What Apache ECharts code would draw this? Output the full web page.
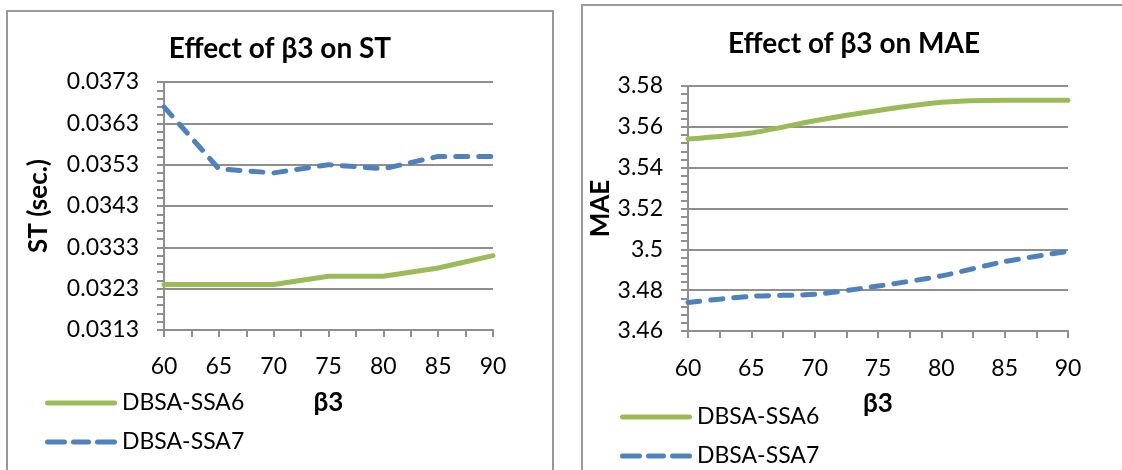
<!DOCTYPE html>
<html><head><meta charset="utf-8">
<script src="https://cdn.jsdelivr.net/npm/echarts@6/dist/echarts.min.js"></script>
<style>html,body{margin:0;padding:0;background:#fff}#c{width:1122px;height:470px}</style>
</head><body><div id="c"></div>
<script>
// ---- data ----
const beta3 = [60, 65, 70, 75, 80, 85, 90];
const stSSA6 = [0.0324, 0.0324, 0.0324, 0.0326, 0.0326, 0.0328, 0.0331];
const stSSA7 = [0.0367, 0.0352, 0.0351, 0.0353, 0.0352, 0.0355, 0.0355];
const maeSSA6 = [3.554, 3.557, 3.563, 3.568, 3.572, 3.573, 3.573];
const maeSSA7 = [3.474, 3.477, 3.478, 3.482, 3.487, 3.494, 3.499];
const stTicks = ['0.0313', '0.0323', '0.0333', '0.0343', '0.0353', '0.0363', '0.0373'];
const maeTicks = ['3.46', '3.48', '3.5', '3.52', '3.54', '3.56', '3.58'];
const xTicks = [60, 65, 70, 75, 80, 85, 90];
const seriesNames = ['DBSA-SSA6', 'DBSA-SSA7'];
const titles = ['Effect of β3 on ST', 'Effect of β3 on MAE'];
const yNames = ['ST (sec.)', 'MAE'];
const xName = 'β3';

// ST axis is drawn in units of 0.0001 above its first tick
const stBase = parseFloat(stTicks[0]);
const stUnit = 0.0001;
const stStep = 10;
const toST = v => Math.round((v - stBase) / stUnit * 1000) / 1000;
const maeBase = parseFloat(maeTicks[0]);
const maeStep = 0.02;

const GREEN = '#9BBB59', BLUE = '#4F81BD', GRID = '#8f8f8f';
const FONT = 'Lato';

// legend icons (line samples)
const ICON_SOLID = 'path://M2.5,0H69.5A2.5,2.5 0 0 1 69.5,5H2.5A2.5,2.5 0 0 1 2.5,0Z';
const ICON_DASH = 'path://M2.5,0H19.5A2.5,2.5 0 0 1 19.5,5H2.5A2.5,2.5 0 0 1 2.5,0Z' +
  'M28.5,0H43.5A2.5,2.5 0 0 1 43.5,5H28.5A2.5,2.5 0 0 1 28.5,0Z' +
  'M52.5,0H69.5A2.5,2.5 0 0 1 69.5,5H52.5A2.5,2.5 0 0 1 52.5,0Z';
const legendIcons = [ICON_SOLID, ICON_DASH];

const chart = echarts.init(document.getElementById('c'), null, {renderer: 'canvas'});

function xAxis(gi, labelMargin) {
  return {
    type: 'value', gridIndex: gi, min: xTicks[0], max: xTicks[xTicks.length - 1], interval: 5,
    name: xName, nameLocation: 'middle', nameGap: 60,
    nameTextStyle: {fontFamily: FONT, fontWeight: 'bold', fontSize: 26, color: '#000'},
    axisLine: {show: true, lineStyle: {color: GRID, width: 2}},
    axisTick: {show: true, length: 7, lineStyle: {color: GRID, width: 2}},
    minorTick: {show: true, splitNumber: 2, length: 7, lineStyle: {color: GRID, width: 2}},
    axisLabel: {margin: labelMargin, fontFamily: FONT, fontSize: 23, color: '#000'},
    splitLine: {show: false}
  };
}
function yAxisBase(gi, name, gap) {
  return {
    gridIndex: gi, type: 'value',
    name: name, nameLocation: 'middle', nameGap: gap, nameRotate: 90,
    nameTextStyle: {fontFamily: FONT, fontWeight: 'bold', fontSize: 26, color: '#000'},
    axisLine: {show: true, lineStyle: {color: GRID, width: 2}},
    axisTick: {show: true, length: 7, lineStyle: {color: GRID, width: 2}},
    minorTick: {show: true, splitNumber: 5, length: 7, lineStyle: {color: GRID, width: 2}},
    splitLine: {show: true, lineStyle: {color: GRID, width: 2}},
    minorSplitLine: {show: false}
  };
}

const yST = Object.assign(yAxisBase(0, yNames[0], 112), {
  min: 0, max: (stTicks.length - 1) * stStep, interval: stStep,
  axisLabel: {margin: 25, fontFamily: FONT, fontSize: 23, color: '#000',
    formatter: v => stTicks[Math.round(v / stStep)] || ''}
});
const yMAE = Object.assign(yAxisBase(1, yNames[1], 66), {
  min: maeBase, max: parseFloat(maeTicks[maeTicks.length - 1]), interval: maeStep,
  axisLabel: {margin: 25, fontFamily: FONT, fontSize: 23, color: '#000',
    formatter: v => maeTicks[Math.round((v - maeBase) / maeStep)] || ''}
});

function lineSeries(name, xi, data, color, dashed, smooth) {
  return {
    type: 'line', name: name, xAxisIndex: xi, yAxisIndex: xi, data: data,
    symbol: 'none', smooth: smooth, animation: false,
    lineStyle: {color: color, width: 5, type: dashed ? [12, 11] : 'solid', cap: 'round', join: 'round'},
    itemStyle: {color: color}
  };
}

function legend(left, top, gap) {
  return {
    orient: 'vertical', left: left, top: top, padding: 0,
    itemWidth: 72, itemHeight: 5, itemGap: gap, itemTextGap: 7,
    selectedMode: false,
    textStyle: {fontFamily: FONT, fontSize: 23, color: '#000', lineHeight: 24},
    data: seriesNames.map((n, i) => ({name: n, icon: legendIcons[i]}))
  };
}

chart.setOption({
  backgroundColor: '#fff',
  animation: false,
  title: [
    {text: titles[0], left: 280, top: 35, padding: 0, textAlign: 'center',
      textStyle: {fontFamily: FONT, fontWeight: 'bold', fontSize: 28, color: '#000'}},
    {text: titles[1], left: 854, top: 30, padding: 0, textAlign: 'center',
      textStyle: {fontFamily: FONT, fontWeight: 'bold', fontSize: 28, color: '#000'}}
  ],
  grid: [
    {left: 164, top: 82, width: 329, height: 248},
    {left: 688, top: 86, width: 380, height: 245}
  ],
  xAxis: [xAxis(0, 25), xAxis(1, 26)],
  yAxis: [yST, yMAE],
  legend: [legend(45, 391, 15), legend(620, 405, 15)],
  series: [
    lineSeries(seriesNames[0], 0, beta3.map((x, i) => [x, toST(stSSA6[i])]), GREEN, false, false),
    lineSeries(seriesNames[1], 0, beta3.map((x, i) => [x, toST(stSSA7[i])]), BLUE, true, false),
    lineSeries(seriesNames[0], 1, beta3.map((x, i) => [x, maeSSA6[i]]), GREEN, false, 0.25),
    lineSeries(seriesNames[1], 1, beta3.map((x, i) => [x, maeSSA7[i]]), BLUE, true, 0.25)
  ],
  graphic: [
    {type: 'rect', shape: {x: 7, y: 11, width: 546, height: 480}, silent: true, z: -1,
      style: {fill: 'none', stroke: '#9a9a9a', lineWidth: 2}},
    {type: 'rect', shape: {x: 582, y: 5, width: 560, height: 480}, silent: true, z: -1,
      style: {fill: 'none', stroke: '#9a9a9a', lineWidth: 2}}
  ]
});
</script>
</body></html>
